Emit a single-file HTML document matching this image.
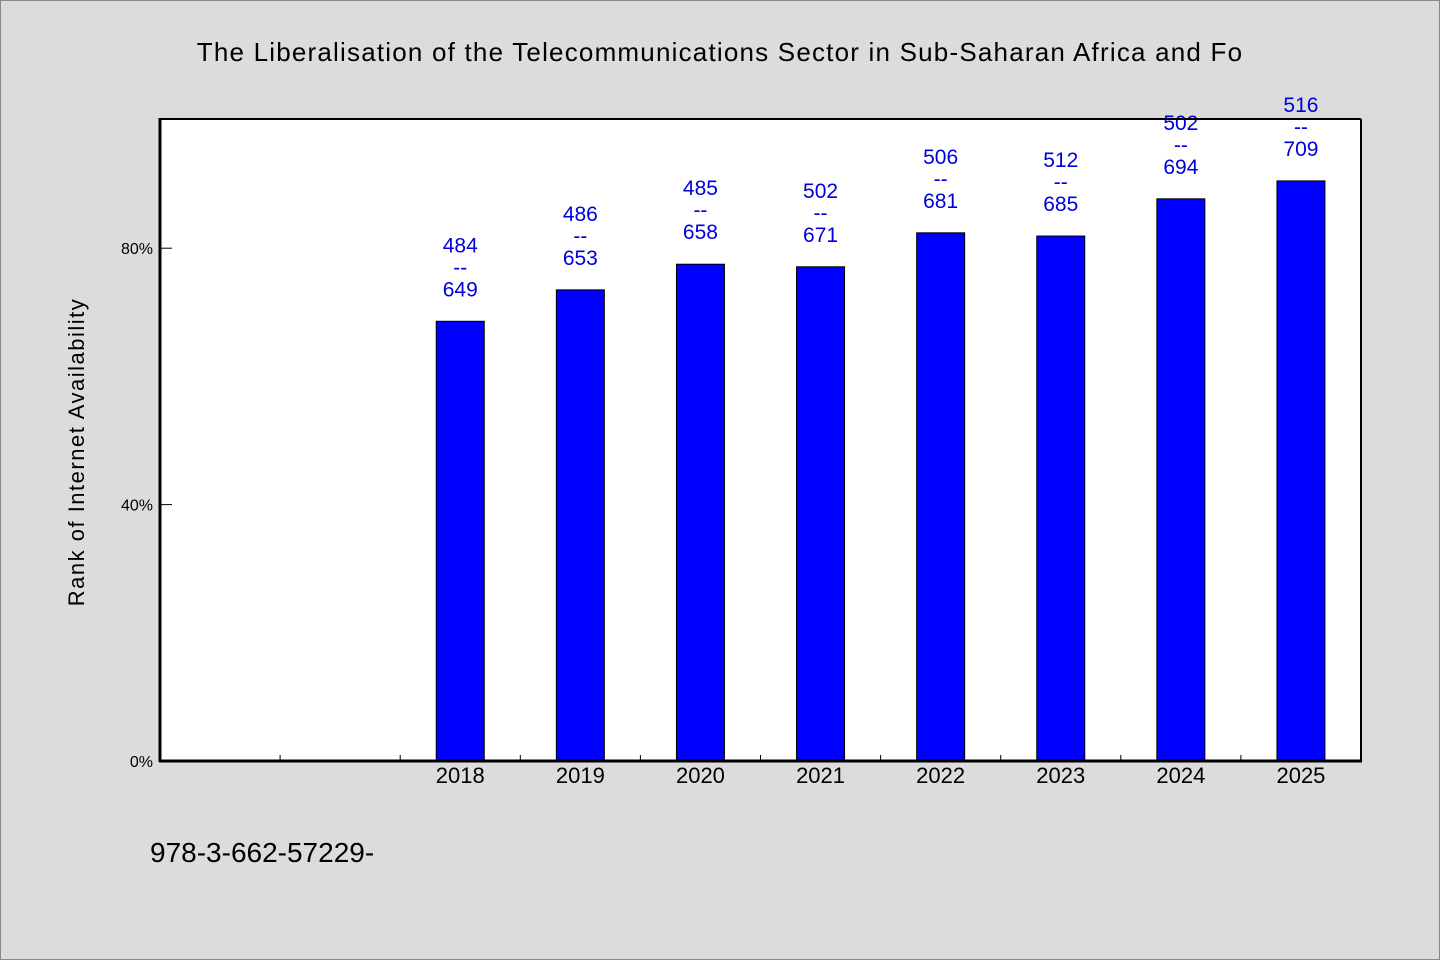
<!DOCTYPE html>
<html><head><meta charset="utf-8"><style>
html,body{margin:0;padding:0;background:#dcdcdc;}
svg{display:block;font-family:"WenQuanYi Zen Hei Mono","WenQuanYi Zen Hei","Liberation Sans",sans-serif;}
</style></head><body>
<svg id="chart" width="1440" height="960">
<rect x="0.5" y="0.5" width="1439" height="959" fill="#dcdcdc" stroke="#888"/>
<text x="720" y="61" text-anchor="middle" font-size="26" fill="#000" letter-spacing="1.2">The Liberalisation of the Telecommunications Sector in Sub-Saharan Africa and Fo</text>
<rect x="160" y="119" width="1201" height="642" fill="#fff"/>
<g id="bars"></g>
<g id="ticks"></g>
<line x1="160" y1="119" x2="1361" y2="119" stroke="#000" stroke-width="2"/>
<line x1="1361" y1="119" x2="1361" y2="761" stroke="#000" stroke-width="2"/>
<line x1="160" y1="118" x2="160" y2="762" stroke="#000" stroke-width="3"/>
<line x1="159" y1="761" x2="1362" y2="761" stroke="#000" stroke-width="3"/>
<text transform="translate(84,452) rotate(-90)" text-anchor="middle" font-size="22" letter-spacing="1.5" fill="#000">Rank of Internet Availability</text>
<text x="150" y="862" font-size="28" fill="#000">978-3-662-57229-</text>
</svg>
<script>
const categories = ["2018","2019","2020","2021","2022","2023","2024","2025"];
const values = [68.6, 73.5, 77.5, 77.1, 82.4, 81.9, 87.7, 90.5];
const topLabels = ["484","486","485","502","506","512","502","516"];
const bottomLabels = ["649","653","658","671","681","685","694","709"];
const yTicks = [0, 40, 80];
const yTickLabels = ["0%","40%","80%"];
const slotOffset = 2, slotCount = 10;
const NS = "http://www.w3.org/2000/svg";
const X0 = 160, X1 = 1361, Y0 = 761, PX = 6.41;
const slotW = (X1 - X0) / slotCount;
function y(v){ return Y0 - v * PX; }
function xc(i){ return X0 + (i + slotOffset + 0.5) * slotW; }
function mk(tag, attrs, parent){ const e = document.createElementNS(NS, tag); for (const k in attrs) e.setAttribute(k, attrs[k]); parent.appendChild(e); return e; }
const bars = document.getElementById('bars'), ticks = document.getElementById('ticks');
for (let s = 1; s < slotCount; s++) {
  const tx = X0 + s * slotW;
  const t = mk('line', {x1: tx, x2: tx, y1: Y0, y2: Y0 - 6, stroke: '#000', 'stroke-width': 1}, ticks);
  
  
}
yTicks.forEach((v, i) => {
  const t = mk('line', {x1: X0, x2: X0 + 12, y1: y(v), y2: y(v), stroke: '#000', 'stroke-width': 1}, ticks);
  
  
  const l = mk('text', {x: X0 - 7, y: y(v) + 6, 'text-anchor': 'end', 'font-size': 16, fill: '#000'}, ticks);
  l.textContent = yTickLabels[i];
  
  
});
categories.forEach((c, i) => {
  const cx = xc(i), top = y(values[i]);
  const r = mk('rect', {x: cx - 24, y: top, width: 48, height: Y0 - top, fill: '#0000ff', stroke: '#000', 'stroke-width': 1}, bars);
  
  
  const xl = mk('text', {x: cx, y: Y0 + 22, 'text-anchor': 'middle', 'font-size': 22, fill: '#000'}, bars);
  xl.textContent = c;
  
  
  const lines = [topLabels[i], '--', bottomLabels[i]];
  const offs = [-69, -47, -25];
  lines.forEach((t, k) => {
    const e = mk('text', {x: cx, y: top + offs[k], 'text-anchor': 'middle', 'font-size': 21, fill: '#0000dd'}, bars);
    e.textContent = t;
    
    
  });
});
</script>
</body></html>
